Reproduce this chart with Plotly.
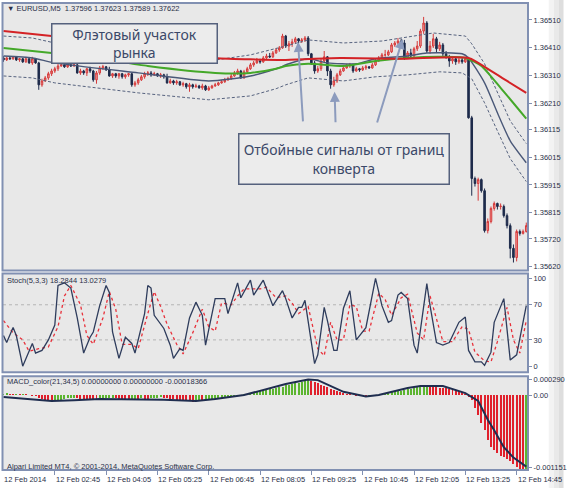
import plotly.graph_objects as go

# ---------------- data ----------------
bars = list(range(164))

open_ = [1.36373,1.36366,1.36373,1.36370,1.36377,1.36366,1.36370,1.36359,1.36370,1.36355,
         1.36370,1.36355,1.36276,1.36290,1.36301,1.36316,1.36326,1.36334,1.36344,1.36348,
         1.36341,1.36348,1.36344,1.36348,1.36319,1.36326,1.36319,1.36334,1.36326,1.36294,
         1.36319,1.36337,1.36341,1.36330,1.36308,1.36316,1.36308,1.36316,1.36305,1.36312,
         1.36316,1.36276,1.36283,1.36294,1.36305,1.36316,1.36319,1.36312,1.36316,1.36308,
         1.36312,1.36305,1.36283,1.36290,1.36283,1.36287,1.36276,1.36280,1.36269,1.36276,
         1.36269,1.36272,1.36265,1.36272,1.36258,1.36265,1.36272,1.36276,1.36283,1.36287,
         1.36294,1.36298,1.36308,1.36319,1.36326,1.36301,1.36323,1.36334,1.36348,1.36355,
         1.36362,1.36359,1.36373,1.36380,1.36377,1.36391,1.36402,1.36409,1.36452,1.36416,
         1.36424,1.36431,1.36442,1.36434,1.36438,1.36445,1.36388,1.36355,1.36326,1.36334,
         1.36362,1.36377,1.36326,1.36276,1.36290,1.36312,1.36326,1.36337,1.36344,1.36348,
         1.36326,1.36334,1.36330,1.36337,1.36341,1.36337,1.36348,1.36362,1.36373,1.36384,
         1.36384,1.36395,1.36420,1.36427,1.36434,1.36427,1.36373,1.36391,1.36380,1.36406,
         1.36416,1.36470,1.36499,1.36398,1.36416,1.36442,1.36406,1.36420,1.36388,1.36377,
         1.36362,1.36370,1.36359,1.36366,1.36359,1.36370,1.36157,1.35938,1.35920,1.35934,
         1.35894,1.35750,1.35783,1.35830,1.35848,1.35837,1.35837,1.35804,1.35768,1.35686,
         1.35653,1.35747,1.35740,1.35747]
close = [1.36366,1.36373,1.36370,1.36377,1.36366,1.36370,1.36359,1.36370,1.36355,1.36370,
         1.36355,1.36276,1.36290,1.36301,1.36316,1.36326,1.36334,1.36344,1.36348,1.36341,
         1.36348,1.36344,1.36348,1.36319,1.36326,1.36319,1.36334,1.36326,1.36294,1.36319,
         1.36337,1.36341,1.36330,1.36308,1.36316,1.36308,1.36316,1.36305,1.36312,1.36316,
         1.36276,1.36283,1.36294,1.36305,1.36316,1.36319,1.36312,1.36316,1.36308,1.36312,
         1.36305,1.36283,1.36290,1.36283,1.36287,1.36276,1.36280,1.36269,1.36276,1.36269,
         1.36272,1.36265,1.36272,1.36258,1.36265,1.36272,1.36276,1.36283,1.36287,1.36294,
         1.36298,1.36308,1.36319,1.36326,1.36301,1.36323,1.36334,1.36348,1.36355,1.36362,
         1.36359,1.36373,1.36380,1.36377,1.36391,1.36402,1.36409,1.36452,1.36416,1.36424,
         1.36431,1.36442,1.36434,1.36438,1.36445,1.36388,1.36355,1.36326,1.36334,1.36362,
         1.36377,1.36326,1.36276,1.36290,1.36312,1.36326,1.36337,1.36344,1.36348,1.36326,
         1.36334,1.36330,1.36337,1.36341,1.36337,1.36348,1.36362,1.36373,1.36384,1.36384,
         1.36395,1.36420,1.36427,1.36434,1.36427,1.36373,1.36391,1.36380,1.36406,1.36416,
         1.36470,1.36499,1.36398,1.36416,1.36442,1.36406,1.36420,1.36388,1.36377,1.36362,
         1.36370,1.36359,1.36366,1.36359,1.36370,1.36157,1.35938,1.35920,1.35934,1.35894,
         1.35750,1.35783,1.35830,1.35848,1.35837,1.35838,1.35804,1.35768,1.35686,1.35653,
         1.35747,1.35740,1.35747,1.35768]
high = [1.36380,1.36377,1.36377,1.36380,1.36380,1.36373,1.36373,1.36377,1.36373,1.36377,
        1.36373,1.36359,1.36298,1.36308,1.36323,1.36334,1.36341,1.36352,1.36355,1.36352,
        1.36352,1.36352,1.36355,1.36352,1.36334,1.36330,1.36337,1.36341,1.36330,1.36326,
        1.36344,1.36348,1.36344,1.36341,1.36319,1.36319,1.36319,1.36319,1.36316,1.36319,
        1.36319,1.36290,1.36301,1.36312,1.36323,1.36326,1.36326,1.36323,1.36319,1.36319,
        1.36316,1.36316,1.36298,1.36294,1.36294,1.36290,1.36287,1.36283,1.36283,1.36280,
        1.36280,1.36276,1.36280,1.36276,1.36272,1.36276,1.36283,1.36287,1.36294,1.36301,
        1.36305,1.36316,1.36326,1.36334,1.36330,1.36330,1.36341,1.36355,1.36362,1.36373,
        1.36370,1.36380,1.36388,1.36391,1.36398,1.36409,1.36416,1.36460,1.36456,1.36434,
        1.36442,1.36449,1.36445,1.36445,1.36452,1.36452,1.36391,1.36362,1.36344,1.36370,
        1.36398,1.36380,1.36334,1.36305,1.36319,1.36334,1.36348,1.36352,1.36355,1.36352,
        1.36341,1.36337,1.36344,1.36348,1.36344,1.36355,1.36370,1.36380,1.36391,1.36402,
        1.36402,1.36427,1.36434,1.36445,1.36442,1.36438,1.36398,1.36406,1.36413,1.36434,
        1.36478,1.36521,1.36506,1.36434,1.36460,1.36449,1.36431,1.36427,1.36398,1.36384,
        1.36377,1.36377,1.36373,1.36373,1.36377,1.36377,1.36164,1.35945,1.35941,1.35938,
        1.35902,1.35794,1.35837,1.35855,1.35851,1.35848,1.35844,1.35812,1.35776,1.35700,
        1.35754,1.35754,1.35754,1.35779]
low = [1.36359,1.36362,1.36366,1.36366,1.36362,1.36359,1.36355,1.36355,1.36352,1.36348,
       1.36352,1.36258,1.36269,1.36287,1.36294,1.36308,1.36319,1.36326,1.36341,1.36337,
       1.36337,1.36341,1.36341,1.36316,1.36312,1.36312,1.36308,1.36319,1.36287,1.36280,
       1.36312,1.36330,1.36326,1.36305,1.36301,1.36301,1.36298,1.36298,1.36298,1.36305,
       1.36269,1.36269,1.36276,1.36290,1.36298,1.36308,1.36305,1.36308,1.36305,1.36301,
       1.36298,1.36280,1.36280,1.36276,1.36276,1.36272,1.36269,1.36262,1.36251,1.36262,
       1.36265,1.36262,1.36258,1.36254,1.36254,1.36262,1.36269,1.36272,1.36280,1.36283,
       1.36290,1.36294,1.36305,1.36312,1.36298,1.36298,1.36319,1.36330,1.36341,1.36352,
       1.36352,1.36355,1.36366,1.36373,1.36373,1.36388,1.36395,1.36406,1.36409,1.36398,
       1.36413,1.36424,1.36424,1.36427,1.36431,1.36380,1.36348,1.36316,1.36319,1.36326,
       1.36355,1.36308,1.36262,1.36269,1.36283,1.36308,1.36323,1.36334,1.36337,1.36319,
       1.36323,1.36323,1.36326,1.36330,1.36334,1.36334,1.36344,1.36359,1.36370,1.36377,
       1.36380,1.36391,1.36413,1.36420,1.36420,1.36366,1.36370,1.36373,1.36377,1.36398,
       1.36409,1.36460,1.36391,1.36388,1.36409,1.36391,1.36398,1.36377,1.36370,1.36341,
       1.36352,1.36348,1.36352,1.36352,1.36355,1.36154,1.35876,1.35909,1.35858,1.35887,
       1.35743,1.35740,1.35776,1.35822,1.35826,1.35826,1.35797,1.35758,1.35650,1.35635,
       1.35639,1.35732,1.35736,1.35743]

# moving averages / envelope (bar index, price)
red_ma_bars = [0, 15, 30, 45, 66, 88, 105, 125, 145, 152, 157, 163]
red_ma = [1.36470, 1.36452, 1.36431, 1.36406, 1.36373, 1.36366, 1.36373, 1.36370, 1.36373, 1.36326, 1.36290, 1.36247]
green_ma_bars = [0, 15, 30, 45, 66, 77, 85, 88, 95, 106, 116, 126, 136, 144, 149, 155, 163]
green_ma = [1.36409, 1.36391, 1.36370, 1.36344, 1.36319, 1.36319, 1.36334, 1.36344, 1.36352, 1.36344, 1.36362,
            1.36373, 1.36377, 1.36373, 1.36344, 1.36265, 1.36154]
mid_bars = [0, 9, 16, 42, 64, 77, 85, 89, 95, 101, 110, 116, 126, 132, 143, 145, 150, 154, 158, 163]
mid_ma = [1.36380, 1.36373, 1.36355, 1.36319, 1.36290, 1.36308, 1.36334, 1.36352, 1.36370, 1.36355, 1.36352,
          1.36370, 1.36380, 1.36391, 1.36388, 1.36373, 1.36283, 1.36175, 1.36074, 1.35995]
upper_bars = [0, 9, 16, 42, 64, 77, 85, 88, 95, 106, 118, 126, 134, 144, 146, 150, 154, 158, 163]
upper_env = [1.36452, 1.36445, 1.36427, 1.36391, 1.36362, 1.36384, 1.36406, 1.36416, 1.36438, 1.36427, 1.36434,
             1.36449, 1.36463, 1.36452, 1.36424, 1.36352, 1.36247, 1.36146, 1.36064]
lower_bars = [0, 9, 16, 42, 64, 77, 85, 88, 95, 106, 116, 126, 136, 143, 146, 150, 154, 158, 163]
lower_env = [1.36308, 1.36301, 1.36283, 1.36247, 1.36222, 1.36236, 1.36262, 1.36276, 1.36301, 1.36290, 1.36305,
             1.36312, 1.36323, 1.36319, 1.36298, 1.36211, 1.36110, 1.36010, 1.35927]

# stochastic
k_bars = [0,1,3,4,6,9,10,12,14,16,17,19,21,23,25,27,28,30,32,33,34,36,38,40,41,44,45,46,47,49,
          50,52,53,55,56,58,60,62,63,66,69,70,73,74,77,78,81,84,87,88,90,92,93,94,97,98,100,101,103,104,
          106,108,110,113,116,118,120,121,123,124,126,128,129,132,133,135,137,139,142,144,145,147,149,150,152,153,156,158,160,163]
stoch_k = [35,27,44,35,0,26,15,18,30,47,92,95,89,55,15,33,39,69,92,84,39,9,33,26,15,60,92,89,58,47,
           43,24,9,20,18,55,73,58,24,77,77,60,95,78,98,81,98,69,86,77,55,67,67,75,3,13,67,52,18,18,
           66,86,30,44,100,69,50,52,81,84,77,24,15,94,69,27,24,27,50,56,18,5,5,1,16,50,77,7,13,69]
d_bars = [0,3,6,8,11,14,17,19,21,24,26,28,31,33,35,37,40,42,45,47,49,51,54,56,59,62,64,66,68,71,
          73,75,78,80,82,85,88,90,92,95,98,100,102,104,106,108,110,112,114,117,119,121,124,126,129,131,133,135,137,140,
          143,145,147,150,152,154,157,159,161,163]
stoch_d = [52,38,30,17,20,22,45,80,92,70,35,25,55,85,65,25,25,20,60,85,68,48,25,14,38,65,45,40,72,70,
           80,88,88,88,90,78,80,72,60,68,20,12,50,30,30,70,68,40,40,83,76,58,78,82,38,30,80,55,28,28,
           45,42,16,6,5,28,67,30,15,52]

# MACD (values in units of 0.00001)
MACD_UNIT = 1e-5
macd_hist = [2,3,2,1,2,1,2,1,0,-1,
             -2,-4,-6,-8,-9,-10,
             -9,-8,-7,-6,-5,-4,-4,
             -5,-5.5,-6,-6.5,-7,-7.5,-8,
             -7,-6,-5,-4.5,-4,
             -5,-6,-6.5,-7,-7.5,
             -7,-6,-6.5,-5,-5.5,-6,-5,-4.5,-4,-3.5,-4,-4.5,
             -5.5,-6.5,-7,-7.5,-8,-8.5,-9,-10,
             -9,-8,-8.5,-8,
             -7,-6,-5.5,-5,-4,-3.5,-3,-2,-1,-0.5,0,
             1,2,3,4,5,6,7,8,9,10,11,12,13,15,16,17,18,19,20,21,23,
             22,20,18,16,14,12,10,8,6,4,3,
             2,1,0,-1,-1.5,-2,-2.5,-2,-1.5,-1,0,
             1,2,3,4,5,6,7,8,9,10,11,
             12,12.5,13,13.5,
             13,12.5,12,11.5,11,10.5,10,
             9,7,6,4,2,
             -3,-8,-20,-31,-43,-54,-69,-80,-84,-89,-93,-95,-98,-102,-106,-110,-113,-115,-114]
sig_bars = [0,15,22,30,50,60,66,75,88,95,98,106,113,117,126,130,137,144,148,151,153,156,159,163]
macd_signal = [-3,-9,-8,-6,-7,-9,-6,0,17,24,23,5,-2,0,11,14,14,3,-9,-38,-54,-80,-96,-110]

price_ticks = [1.36510, 1.36410, 1.36310, 1.36210, 1.36115, 1.36015, 1.35915, 1.35815, 1.35720, 1.35620]
stoch_ticks = [100, 70, 30, 0]
time_tick_bars = [-0.15, 16, 32, 48, 64, 80, 96, 112, 128, 144, 160]
time_tick_labels = ["12 Feb 2014", "12 Feb 02:45", "12 Feb 04:05", "12 Feb 05:25", "12 Feb 06:45",
                    "12 Feb 08:05", "12 Feb 09:25", "12 Feb 10:45", "12 Feb 12:05", "12 Feb 13:25", "12 Feb 14:45"]

# ---------------- figure ----------------
W, H = 570, 488
ML, MR, MT, MB = 3, 35, 3, 18
PW, PH = W - ML - MR, H - MT - MB


def py(pix):  # pixel row -> paper y
    return (H - MB - pix) / PH


def px(pix):  # pixel column -> paper x
    return (pix - ML) / PW


FRAME = "#8190b2"
NAVY = "#1e2b4b"
TXT = "#2a3048"
SMALL = dict(family="Liberation Sans, Arial, sans-serif", size=7.5, color=TXT)

fig = go.Figure()

fig.add_trace(go.Candlestick(
    x=bars, open=open_, high=high, low=low, close=close,
    increasing=dict(line=dict(color="#d63a3a", width=1), fillcolor="#f2a2a2"),
    decreasing=dict(line=dict(color=NAVY, width=1), fillcolor=NAVY),
    whiskerwidth=0, xaxis="x", yaxis="y", hoverinfo="skip"))

ENV = dict(color="#56627e", width=1, dash="3px,2px")
fig.add_trace(go.Scatter(x=upper_bars, y=upper_env, mode="lines", line=ENV, yaxis="y"))
fig.add_trace(go.Scatter(x=lower_bars, y=lower_env, mode="lines", line=ENV, yaxis="y"))
fig.add_trace(go.Scatter(x=mid_bars, y=mid_ma, mode="lines", line=dict(color="#4a5878", width=1.4, shape="spline", smoothing=0.6), yaxis="y"))
fig.add_trace(go.Scatter(x=green_ma_bars, y=green_ma, mode="lines", line=dict(color="#44a829", width=2, shape="spline", smoothing=0.6), yaxis="y"))
fig.add_trace(go.Scatter(x=red_ma_bars, y=red_ma, mode="lines", line=dict(color="#d42226", width=2, shape="spline", smoothing=0.6), yaxis="y"))

fig.add_trace(go.Scatter(x=d_bars, y=stoch_d, mode="lines", line=dict(color="#e8303a", width=1.3, dash="dot"), yaxis="y2"))
fig.add_trace(go.Scatter(x=k_bars, y=stoch_k, mode="lines", line=dict(color="#2e3c5c", width=1.3), yaxis="y2"))

hist_vals = [v * MACD_UNIT for v in macd_hist]
hist_colors = []
for i, v in enumerate(macd_hist):
    prev = macd_hist[i - 1] if i > 0 else v
    hist_colors.append("#5cb530" if v >= prev else "#e0202c")
fig.add_trace(go.Bar(x=bars, y=hist_vals, marker=dict(color=hist_colors, line=dict(width=0)), width=0.62, yaxis="y3"))
fig.add_trace(go.Scatter(x=sig_bars, y=[v * MACD_UNIT for v in macd_signal], mode="lines",
                         line=dict(color="#1f2d4f", width=2), yaxis="y3"))

shapes = []
# frames of the three panes
for top, bot in [(2, 270), (273, 372), (376, 470)]:
    shapes.append(dict(type="rect", xref="paper", yref="paper", x0=px(2.5), x1=1, y0=py(bot), y1=py(top),
                       line=dict(color=FRAME, width=2), layer="above"))
# stochastic levels
for lvl in (70, 30):
    shapes.append(dict(type="line", xref="paper", yref="y2", x0=0, x1=1, y0=lvl, y1=lvl,
                       line=dict(color="#b4b4b4", width=1, dash="dot"), layer="below"))
# window shadow at the right
for a, b, c in [(556, 561, "#f3f3f3"), (561, 566, "#e9e9e9"), (566, 571, "#dedede")]:
    shapes.append(dict(type="rect", xref="paper", yref="paper", x0=px(a), x1=px(b), y0=-0.05, y1=1.01,
                       fillcolor=c, line=dict(width=0), layer="below"))

annotations = []
annotations.append(dict(xref="paper", yref="paper", x=px(5), y=py(8), xanchor="left", yanchor="middle",
                        text="▼ EURUSD,M5  1.37596 1.37623 1.37589 1.37622", showarrow=False, font=SMALL))
annotations.append(dict(xref="paper", yref="paper", x=px(5), y=py(280), xanchor="left", yanchor="middle",
                        text="Stoch(5,3,3) 18.2844 13.0279", showarrow=False, font=SMALL))
annotations.append(dict(xref="paper", yref="paper", x=px(5), y=py(381), xanchor="left", yanchor="middle",
                        text="MACD_color(21,34,5) 0.00000000 0.00000000 -0.00018366", showarrow=False, font=SMALL))
annotations.append(dict(xref="paper", yref="paper", x=px(5), y=py(466), xanchor="left", yanchor="middle",
                        text="Alpari Limited MT4, © 2001-2014, MetaQuotes Software Corp.", showarrow=False, font=SMALL))
for tb, tl in zip(time_tick_bars, time_tick_labels):
    annotations.append(dict(xref="x", yref="paper", x=tb, y=py(480), xanchor="left", yanchor="middle",
                            text=tl, showarrow=False, font=SMALL, xshift=-1))

BIG = dict(family="Noto Sans, Open Sans, sans-serif", size=14, color="#3b4868")
annotations.append(dict(xref="paper", yref="paper", x=px(136.5), y=py(42.5), xanchor="center", yanchor="middle",
                        text="Флэтовый участок<br>рынка", showarrow=False, font=BIG, align="center",
                        width=164, height=38, borderpad=0, borderwidth=1.5, bordercolor="#55617d", bgcolor="#ececec"))
annotations.append(dict(xref="paper", yref="paper", x=px(349), y=py(158), xanchor="center", yanchor="middle",
                        text="Отбойные сигналы от границ<br>конверта", showarrow=False, font=BIG, align="center",
                        width=209, height=49, borderpad=0, borderwidth=1.5, bordercolor="#55617d", bgcolor="#ececec"))
for tip, tail in [((302, 41), (307, 122)), ((339, 91), (340, 123)), ((408, 38), (382, 123))]:
    annotations.append(dict(xref="paper", yref="paper", x=px(tip[0]), y=py(tip[1]), text="", showarrow=True,
                            ax=tail[0] - tip[0], ay=tail[1] - tip[1], arrowhead=2, arrowsize=1, arrowwidth=2,
                            arrowcolor="#8c9bbd", standoff=0, startstandoff=0))

axis_common = dict(showgrid=False, zeroline=False, showline=False, ticks="outside", ticklen=3,
                   tickcolor=FRAME, tickfont=SMALL, side="right", anchor="x")

fig.update_layout(
    width=W, height=H, autosize=False,
    margin=dict(l=ML, r=MR, t=MT, b=MB),
    paper_bgcolor="#ffffff", plot_bgcolor="#e8e8e8",
    showlegend=False, hovermode=False, bargap=0,
    xaxis=dict(domain=[0, 1], range=[-0.15, 163.54], anchor="y3", showgrid=False, zeroline=False,
               showline=False, tickvals=time_tick_bars[1:], ticks="outside", ticklen=4, tickcolor=FRAME,
               showticklabels=False, rangeslider=dict(visible=False)),
    yaxis=dict(domain=[py(270), py(3)], range=[1.356064, 1.365676], tickvals=price_ticks,
               ticktext=[f"{v:.5f}" for v in price_ticks], **axis_common),
    yaxis2=dict(domain=[py(372), py(273)], range=[-6.8, 105.7], tickvals=stoch_ticks,
                ticktext=[str(v) for v in stoch_ticks], **axis_common),
    yaxis3=dict(domain=[0, py(376)], range=[-0.001151, 0.000290], tickvals=[0.000245, 0, -0.001117],
                ticktext=["0.000290", "0.00", "-0.001151"], **axis_common),
    shapes=shapes, annotations=annotations,
)

fig.write_html("out.html", config={"displayModeBar": False, "staticPlot": True},
               post_script="document.body.style.margin='0px';document.body.style.overflow='hidden';")
